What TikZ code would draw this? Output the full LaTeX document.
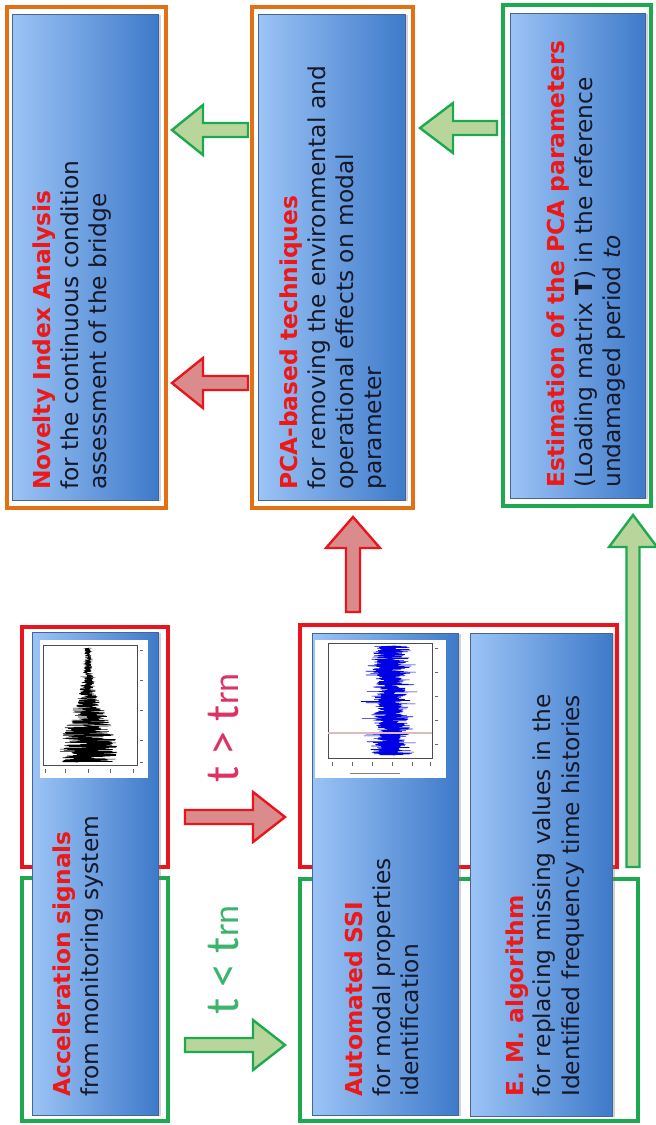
\documentclass[tikz,border=0pt]{standalone}
\usepackage{fontspec}
\setmainfont{DejaVu Sans}
\newfontfamily\labfont{Carlito}
\usetikzlibrary{calc,shadows}
\definecolor{borOrange}{RGB}{228,112,20}
\definecolor{borRed}{RGB}{232,20,30}
\definecolor{borGreen}{RGB}{30,168,80}
\definecolor{blueLight}{RGB}{156,196,246}
\definecolor{blueDark}{RGB}{62,122,202}
\definecolor{blueEdge}{RGB}{70,100,150}
\definecolor{titleRed}{RGB}{238,24,24}
\definecolor{bodyText}{RGB}{20,24,40}
\definecolor{arrGreenFill}{RGB}{184,214,156}
\definecolor{arrRedFill}{RGB}{218,140,140}
\definecolor{labRed}{RGB}{222,50,100}
\definecolor{labGreen}{RGB}{60,180,110}
\tikzset{
  frameorange/.style={draw=borOrange, line width=2.4pt},
  framered/.style={draw=borRed, line width=2.4pt},
  framegreen/.style={draw=borGreen, line width=2.4pt},
  bluebox/.style={draw=blueEdge, line width=0.5pt, left color=blueLight, right color=blueDark,
    drop shadow={shadow xshift=2pt, shadow yshift=-1pt, opacity=0.35}},
  boxtext/.style={rotate=90, anchor=north west, inner sep=0pt, align=left,
    font=\fontsize{17.5}{21}\selectfont, text=bodyText},
  garrow/.style={draw=borGreen, line width=1.8pt, fill=arrGreenFill, line join=miter},
  rarrow/.style={draw=borRed, line width=1.8pt, fill=arrRedFill, line join=miter},
  lab/.style={rotate=90, anchor=base west, inner sep=0pt, font=\labfont\fontsize{36}{36}\selectfont},
  plotbg/.style={fill=white, draw=none},
  plotframe/.style={draw=black!70, line width=0.4pt},
}
\newcommand\ttlred[1]{\textcolor{titleRed}{\textbf{#1}}}
\newcommand\smallrn{{\fontsize{27}{27}\selectfont rn}}
\newcommand\rectnode[6]{%
  \node[#1, inner sep=0pt, outer sep=0pt, minimum width={(#5-#3)*0.75pt},
    minimum height={(#6-#4)*0.75pt}] (#2) at ({(#3+#5)/2},{(#4+#6)/2}) {};}
\newcommand\blockarrow[6]{%
  \coordinate (ah) at ($(#3)!#6!(#2)$);
  \draw[#1] ($(#2)!#4!90:(#3)$) -- ($(ah)!#4!90:(#3)$) -- ($(ah)!#5!90:(#3)$) -- (#3)
    -- ($(ah)!#5!-90:(#3)$) -- ($(ah)!#4!-90:(#3)$) -- ($(#2)!#4!-90:(#3)$) -- cycle;}
\begin{document}
\begin{tikzpicture}[x=0.75pt, y=-0.75pt]
\useasboundingbox (0,0) rectangle (656,1125);
\fill[white] (0,0) rectangle (656,1125);

% outer frames
\rectnode{frameorange}{novF}{7}{7}{166}{508}
\rectnode{frameorange}{pcaF}{252}{7}{413}{508}
\rectnode{framegreen}{estF}{503}{5}{651}{506}
\rectnode{framered}{accR}{22}{627}{168}{867}
\rectnode{framegreen}{accG}{22}{878}{168}{1121}
\rectnode{framered}{midR}{300}{625}{617}{867}
\rectnode{framegreen}{midG}{300}{879}{638}{1121}

% blue boxes
\rectnode{bluebox}{nov}{12}{14}{158}{500}
\rectnode{bluebox}{pca}{258}{14}{405}{500}
\rectnode{bluebox}{est}{510}{13}{645}{498}
\rectnode{bluebox}{acc}{32}{632}{158}{1115}
\rectnode{bluebox}{ssi}{312}{633}{458}{1115}
\rectnode{bluebox}{em}{470}{633}{612}{1116}

% acceleration plot
\rectnode{plotbg}{accP}{40}{640}{148}{778}
\rectnode{plotframe}{accPF}{43}{645}{137}{765}
\foreach \yy in {650,680,710,740,762} {\draw[black!60, line width=0.4pt] (140,\yy) -- (143,\yy);}
\foreach \xx in {45,65,88,110,133} {\draw[black!60, line width=0.4pt] (\xx,769) -- (\xx,773);}
\pgfmathsetseed{3}
\draw[black, line width=0.4pt] plot[variable=\t, domain=648:762, samples=700]
  ({88+(2.5+27*exp(-1*(((\t-752)/50)^2)))*rand}, \t);

% SSI plot
\rectnode{plotbg}{ssiP}{315}{640}{446}{778}
\rectnode{plotframe}{ssiPF}{328}{643}{432}{758}
\foreach \yy in {648,672,696,720,744} {\draw[black!60, line width=0.4pt] (435,\yy) -- (438,\yy);}
\foreach \xx in {332,352,372,392,412,430} {\draw[black!60, line width=0.4pt] (\xx,762) -- (\xx,766);}
\draw[black!50, line width=0.4pt] (350,773) -- (400,773);
\pgfmathsetseed{11}
\draw[blue!90!black, line width=0.45pt] plot[variable=\t, domain=646:755, samples=1100]
  ({390+13*rand+30*rand*rand*rand}, \t);
\draw[gray!70!red!40, line width=1.4pt] (328,733) -- (432,733);

% texts
\node[boxtext] (novT) at (33,490) {\ttlred{Novelty Index Analysis}\\for the continuous condition\\assessment of the bridge};
\node[boxtext] (pcaT) at (280,490) {\ttlred{PCA-based techniques}\\for removing the environmental and\\operational effects on modal\\parameter};
\node[boxtext] (estT) at (546,488) {\ttlred{Estimation of the PCA parameters}\\(Loading matrix \textbf{T}) in the reference\\undamaged period \textit{to}};
\node[boxtext] (accT) at (53,1097) {\ttlred{Acceleration signals}\\from monitoring system};
\node[boxtext] (ssiT) at (345,1097) {\ttlred{Automated SSI}\\for modal properties\\identification};
\node[boxtext] (emT) at (505,1097) {\ttlred{E. M. algorithm}\\for replacing missing values in the\\Identified frequency time histories};

% condition labels
\node[lab, text=labRed] (labR) at (238,783) {t > t\smallrn};
\node[lab, text=labGreen] (labG) at (238,1015) {t < t\smallrn};

% arrows
\coordinate (a1s) at (248,130); \coordinate (a1t) at (172,130);
\coordinate (a2s) at (248,383); \coordinate (a2t) at (172,383);
\coordinate (a3s) at (497,128); \coordinate (a3t) at (420,128);
\coordinate (a4s) at (185,817); \coordinate (a4t) at (285,817);
\coordinate (a5s) at (185,1045); \coordinate (a5t) at (285,1045);
\coordinate (a6s) at (353,612); \coordinate (a6t) at (353,517);
\coordinate (a7s) at (633,867); \coordinate (a7t) at (633,515);
\blockarrow{garrow}{a1s}{a1t}{5.25pt}{18.75pt}{23.25pt}
\blockarrow{rarrow}{a2s}{a2t}{5.25pt}{18.75pt}{23.25pt}
\blockarrow{garrow}{a3s}{a3t}{5.25pt}{18.75pt}{24.75pt}
\blockarrow{rarrow}{a4s}{a4t}{5.25pt}{18.75pt}{24pt}
\blockarrow{garrow}{a5s}{a5t}{5.25pt}{18.75pt}{24pt}
\blockarrow{rarrow}{a6s}{a6t}{5.25pt}{20.25pt}{23.25pt}
\blockarrow{garrow}{a7s}{a7t}{4.9pt}{18pt}{24pt}
\end{tikzpicture}
\end{document}
